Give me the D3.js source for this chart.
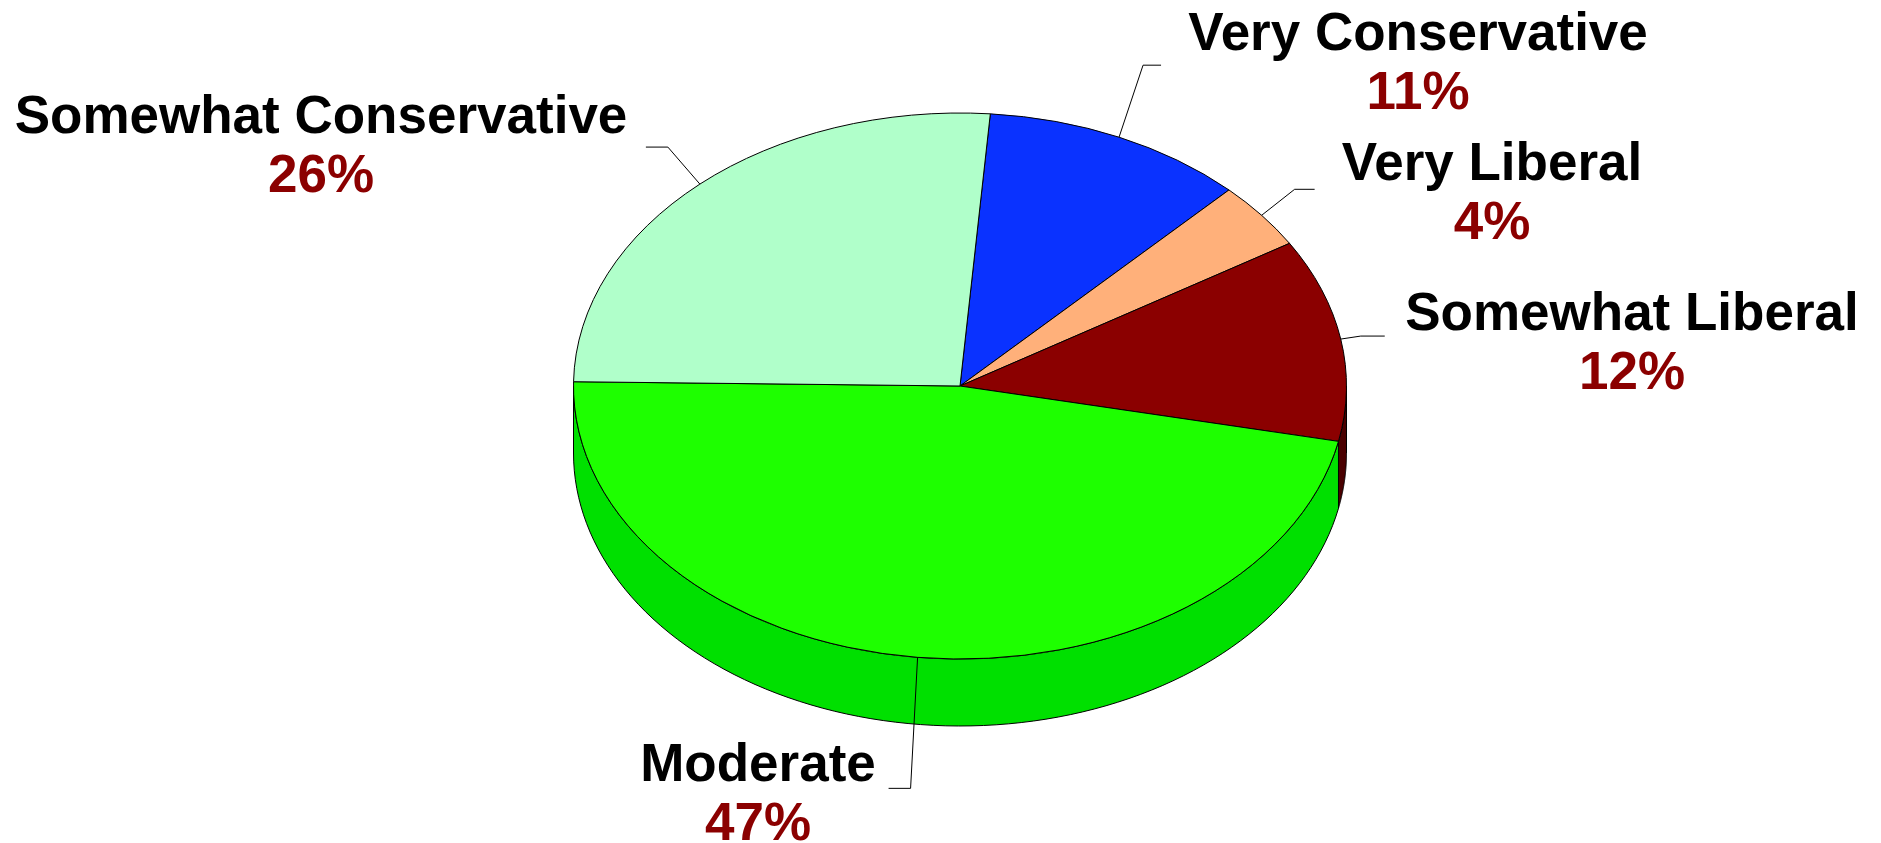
<!DOCTYPE html>
<html>
<head>
<meta charset="utf-8">
<script src="https://cdn.jsdelivr.net/npm/d3@7"></script>
<style>
  body { margin: 0; background: #fff; }
  .label text { font-family: "Liberation Sans", Arial, sans-serif; font-weight: bold; font-size: 53px; text-anchor: middle; }
  .name { fill: #000; }
  .pct { fill: #8b0000; }
  .leader { fill: none; stroke: #000; stroke-width: 1; }
</style>
</head>
<body>
<div id="wrapper"></div>
<script>
// 1. data (clockwise from the top of the pie)
const categories = ["Very Conservative", "Very Liberal", "Somewhat Liberal", "Moderate", "Somewhat Conservative"];
const values = [11, 4, 12, 47, 26];
const topColors = ["#0a32ff", "#ffb07a", "#8b0000", "#1eff00", "#b0ffca"];
const sideColors = ["#0822c0", "#c08050", "#4a0000", "#00e000", "#80d0a0"];

// leader elbow offset from the slice edge, horizontal run, label anchor
const labelLayout = [
    { elbow: [24, -72], run: 18, at: [1418, 50] },
    { elbow: [33, -26], run: 20, at: [1492, 180] },
    { elbow: [20, -3], run: 24, at: [1632, 330] },
    { elbow: [-7, 131], run: -22, at: [758, 781] },
    { elbow: [-32, -37], run: -22, at: [321, 133] },
];

// 2. dimensions
const dimensions = { width: 1881, height: 843 };
const cx = 960, cy = 386, rx = 386.5, ry = 273, depth = 67;
const startAngle = 4.5 * Math.PI / 180;

// 3. canvas
const svg = d3.select("#wrapper").append("svg")
    .attr("width", dimensions.width)
    .attr("height", dimensions.height);

const pie = d3.pie().sort(null)
    .startAngle(startAngle)
    .endAngle(startAngle + 2 * Math.PI);
const arcs = pie(values);

const ellipsePoint = (a, dy = 0) => [cx + rx * Math.sin(a), cy - ry * Math.cos(a) + dy];

// side wall: only the front half (between 3 and 9 o'clock) shows
function sidePath(a0, a1) {
    const s = Math.max(a0, Math.PI / 2), e = Math.min(a1, 3 * Math.PI / 2);
    if (e <= s) return null;
    const n = 90;
    const upper = d3.range(n + 1).map(i => ellipsePoint(s + (e - s) * i / n));
    const lower = d3.range(n + 1).map(i => ellipsePoint(e - (e - s) * i / n, depth));
    return d3.line()(upper.concat(lower)) + "Z";
}

// 4. draw sides
svg.append("g").selectAll("path")
    .data(arcs.filter(d => sidePath(d.startAngle, d.endAngle)))
    .join("path")
    .attr("d", d => sidePath(d.startAngle, d.endAngle))
    .attr("fill", d => sideColors[d.index])
    .attr("stroke", "#000")
    .attr("stroke-width", 1);

// 5. draw top faces (circle squashed into an ellipse)
const arcGen = d3.arc().innerRadius(0).outerRadius(rx);
svg.append("g")
    .attr("transform", `translate(${cx},${cy}) scale(1,${ry / rx})`)
    .selectAll("path")
    .data(arcs)
    .join("path")
    .attr("d", arcGen)
    .attr("fill", d => topColors[d.index])
    .attr("stroke", "#000")
    .attr("stroke-width", 1)
    .attr("vector-effect", "non-scaling-stroke");

// 6. leaders and labels
const midAngle = d => (d.startAngle + d.endAngle) / 2;
svg.append("g").selectAll("path")
    .data(arcs)
    .join("path")
    .attr("class", "leader")
    .attr("d", d => {
        const p = ellipsePoint(midAngle(d));
        const L = labelLayout[d.index];
        const b = [p[0] + L.elbow[0], p[1] + L.elbow[1]];
        return d3.line()([p, b, [b[0] + L.run, b[1]]]);
    });

const labels = svg.append("g").selectAll("g")
    .data(arcs)
    .join("g")
    .attr("class", "label")
    .attr("transform", d => `translate(${labelLayout[d.index].at})`);

labels.append("text")
    .attr("class", "name")
    .text(d => categories[d.index]);

labels.append("text")
    .attr("class", "pct")
    .attr("y", 59)
    .text(d => `${d.data}%`);
</script>
</body>
</html>
